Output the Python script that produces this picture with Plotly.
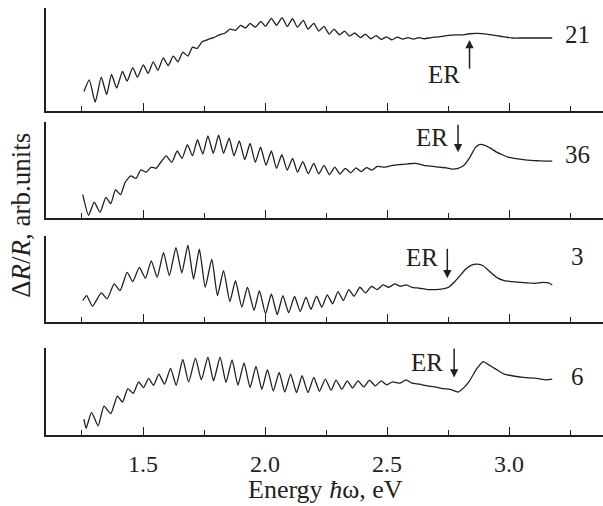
import plotly.graph_objects as go

# ---------------- data (energy in eV, signal in arb. units) ----------------
e21 = [1.258,1.280,1.304,1.329,1.351,1.371,1.392,1.416,1.435,1.458,1.477,1.501,1.521,1.542,1.561,1.583,
       1.603,1.624,1.643,1.663,1.684,1.703,1.722,1.742,1.766,1.789,1.813,1.837,1.857,1.879,1.900,1.920,
       1.939,1.960,1.983,2.002,2.026,2.047,2.070,2.091,2.113,2.133,2.157,2.176,2.200,2.220,2.242,2.263,
       2.283,2.305,2.326,2.346,2.368,2.390,2.412,2.433,2.455,2.476,2.498,2.520,2.542,2.564,2.586,2.608,
       2.630,2.652,2.681,2.712,2.744,2.783,2.807,2.838,2.870,2.909,2.949,2.980,3.012,3.059,3.122,3.177]
s21 = [51,81,23,88,43,95,60,103,78,113,88,120,98,128,106,138,
       118,143,128,153,143,166,163,180,186,191,198,203,213,210,223,216,
       228,218,233,220,241,223,243,220,240,218,236,213,228,208,220,200,
       213,198,208,195,203,191,200,188,196,186,193,185,192,187,191,187,
       191,188,191,193,196,198,198,201,202,200,196,193,190,190,190,190]

e36 = [1.253,1.277,1.300,1.324,1.348,1.368,1.387,1.408,1.427,1.450,1.471,1.491,1.513,1.534,1.554,1.575,
       1.595,1.618,1.640,1.660,1.682,1.703,1.723,1.745,1.766,1.788,1.810,1.830,1.853,1.873,1.895,1.917,
       1.939,1.960,1.982,2.004,2.026,2.047,2.069,2.091,2.113,2.133,2.155,2.177,2.200,2.220,2.242,2.264,
       2.286,2.307,2.329,2.351,2.373,2.394,2.416,2.438,2.460,2.491,2.523,2.554,2.586,2.617,2.649,2.681,
       2.712,2.744,2.767,2.791,2.815,2.838,2.862,2.878,2.901,2.925,2.949,2.972,2.996,3.028,3.059,3.091,
       3.122,3.154,3.177]
s36 = [62,7,42,15,55,38,75,62,95,112,105,128,122,135,132,150,
       165,148,178,158,195,165,208,170,218,172,220,172,212,165,205,155,
       198,148,188,140,178,132,168,127,158,122,150,118,145,117,140,115,
       135,117,132,120,133,123,134,127,137,135,140,142,144,145,140,138,
       135,133,130,132,140,160,187,195,193,185,175,168,162,158,155,153,
       152,151,152]

e3 = [1.253,1.269,1.293,1.329,1.353,1.382,1.406,1.435,1.458,1.485,1.510,1.534,1.558,1.584,1.608,1.635,
      1.659,1.684,1.707,1.731,1.755,1.782,1.805,1.830,1.856,1.879,1.905,1.928,1.955,1.977,2.002,2.026,
      2.050,2.073,2.097,2.121,2.144,2.168,2.188,2.211,2.233,2.255,2.277,2.299,2.321,2.343,2.365,2.389,
      2.412,2.436,2.460,2.483,2.507,2.531,2.554,2.578,2.602,2.633,2.665,2.696,2.728,2.752,2.775,2.799,
      2.823,2.846,2.870,2.894,2.917,2.949,2.980,3.012,3.043,3.075,3.106,3.138,3.162,3.177]
s3 = [65,80,48,88,70,115,95,150,122,165,132,185,135,210,140,225,
      148,232,130,220,105,190,80,155,62,125,45,105,35,95,25,85,
      22,80,28,77,32,75,38,78,45,82,55,92,65,98,78,105,
      88,108,98,112,105,115,108,112,105,102,98,98,100,105,120,140,
      160,172,175,170,155,135,125,122,120,118,117,120,118,112]

e6 = [1.258,1.267,1.289,1.316,1.340,1.368,1.395,1.416,1.438,1.460,1.482,1.502,1.523,1.543,1.565,1.588,
      1.613,1.636,1.663,1.687,1.715,1.739,1.766,1.789,1.816,1.840,1.865,1.889,1.914,1.939,1.963,1.987,
      2.010,2.034,2.058,2.081,2.105,2.129,2.152,2.176,2.200,2.223,2.247,2.271,2.291,2.315,2.337,2.359,
      2.381,2.405,2.428,2.452,2.476,2.499,2.523,2.554,2.578,2.602,2.633,2.665,2.696,2.728,2.759,2.791,
      2.815,2.838,2.867,2.894,2.917,2.949,2.980,3.012,3.059,3.106,3.154,3.177]
s6 = [47,20,67,27,85,63,115,97,137,123,157,140,167,147,180,150,
      197,147,223,157,227,163,230,160,230,155,222,147,213,140,203,135,
      193,130,185,127,180,125,175,125,170,129,165,132,162,135,160,139,
      160,142,162,145,160,148,157,153,163,153,150,145,142,137,135,127,
      140,160,195,217,207,193,180,175,170,168,163,165]

sample_labels = ["21", "36", "3", "6"]
energies = [e21, e36, e3, e6]
signals = [s21, s36, s3, s6]
y_tops = [268, 255, 260, 257]
# ER markers: (text x, text y, arrow x, arrow tail y, arrow tip y)
er_marks = [(2.735, 96, 2.838, 106, 185),
            (2.684, 214, 2.791, 252, 175),
            (2.644, 195, 2.747, 226, 132),
            (2.665, 213, 2.775, 260, 170)]
label_y = [200, 168, 198, 173]

tick_vals = [1.5, 2.0, 2.5, 3.0]
tick_text = ["1.5", "2.0", "2.5", "3.0"]

# ---------------- figure ----------------
INK = "#231f20"
FONT = "Liberation Serif"
domains = [[0.7448, 0.9816], [0.4989, 0.7195], [0.2598, 0.4575], [0.0, 0.2]]

fig = go.Figure()
layout = dict(
    width=603, height=506,
    margin=dict(l=46, r=0, t=0, b=71),
    paper_bgcolor="white", plot_bgcolor="white",
    showlegend=False,
    font=dict(family=FONT, color=INK, size=24),
)
annotations = []
for i in range(4):
    n = "" if i == 0 else str(i + 1)
    fig.add_trace(go.Scatter(x=energies[i], y=signals[i], mode="lines",
                             line=dict(color=INK, width=1.3, shape="spline", smoothing=0.5),
                             xaxis="x" + n, yaxis="y" + n, hoverinfo="skip"))
    layout["xaxis" + n] = dict(
        domain=[0, 1], anchor="y" + n, range=[1.1025, 3.385],
        showline=True, linecolor=INK, linewidth=2, showgrid=False, zeroline=False,
        ticks="inside", ticklen=8, tickwidth=1.3, tickcolor=INK,
        tickvals=tick_vals, ticktext=tick_text, showticklabels=(i == 3),
        ticklabelstandoff=6,
        minor=dict(tickvals=[1.25, 1.75, 2.25, 2.75, 3.25], ticks="inside", ticklen=5,
                   tickwidth=1.3, tickcolor=INK),
        tickfont=dict(family=FONT, size=24, color=INK),
    )
    layout["yaxis" + n] = dict(
        domain=domains[i], anchor="x" + n, range=[0, y_tops[i]],
        showline=True, linecolor=INK, linewidth=2, showgrid=False, zeroline=False,
        ticks="", showticklabels=False,
    )
    tx, ty, ax_, ay0, ay1 = er_marks[i]
    annotations.append(dict(x=tx, y=ty, xref="x" + n, yref="y" + n, text="ER",
                            showarrow=False, font=dict(family=FONT, size=25, color=INK)))
    annotations.append(dict(x=ax_, y=ay1, ax=ax_, ay=ay0, xref="x" + n, yref="y" + n,
                            axref="x" + n, ayref="y" + n, text="", showarrow=True,
                            arrowhead=2, arrowsize=1.1, arrowwidth=1.5, arrowcolor=INK))
    annotations.append(dict(x=3.28, y=label_y[i], xref="x" + n, yref="y" + n,
                            text=sample_labels[i], showarrow=False,
                            font=dict(family=FONT, size=25, color=INK)))

annotations.append(dict(x=0.5009, y=-0.1264, xref="paper", yref="paper",
                        xanchor="center", yanchor="middle",
                        text="Energy <i>ħ</i>ω, eV", showarrow=False,
                        font=dict(family=FONT, size=26, color=INK)))
annotations.append(dict(x=-0.045, y=0.506, xref="paper", yref="paper", textangle=-90,
                        xanchor="center", yanchor="middle",
                        text="Δ<i>R</i>/<i>R</i>, arb.units", showarrow=False,
                        font=dict(family=FONT, size=27, color=INK)))
layout["annotations"] = annotations
fig.update_layout(**layout)
fig.write_html("out.html")
